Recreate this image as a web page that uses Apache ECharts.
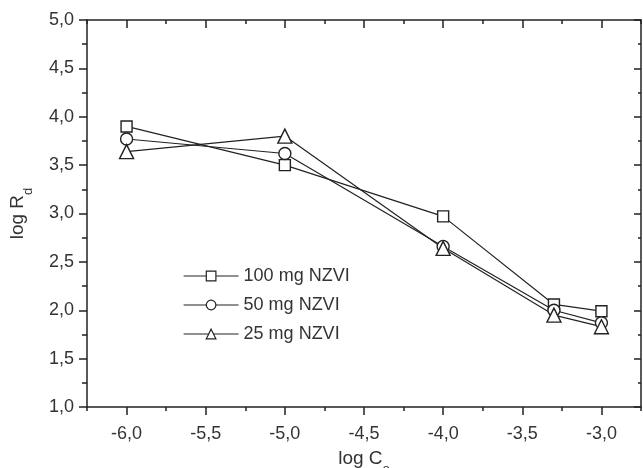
<!DOCTYPE html>
<html>
<head>
<meta charset="utf-8">
<script src="https://cdn.jsdelivr.net/npm/echarts@6/dist/echarts.min.js"></script>
<style>
  html, body { margin: 0; padding: 0; background: #fff; }
  #chart { width: 643px; height: 468px; }
</style>
</head>
<body>
<div id="chart"></div>
<script>
// data
var logC = [-6, -5, -4, -3.3, -3];
var rd100 = [3.90, 3.50, 2.97, 2.06, 1.99];
var rd50 = [3.77, 3.62, 2.66, 2.00, 1.87];
var rd25 = [3.64, 3.80, 2.64, 1.95, 1.83];
var seriesNames = ['100 mg NZVI', '50 mg NZVI', '25 mg NZVI'];
var xTicks = [-6, -5.5, -5, -4.5, -4, -3.5, -3];

function pairs(ys) {
  return logC.map(function (x, i) { return [x, ys[i]]; });
}
function comma(v) {
  return v.toFixed(1).replace('.', ',');
}

var ink = '#222';
var font = 'Liberation Sans, Arial, sans-serif';

/* 坐标轴 */
function xAx(pos, major, inside) {
  var ax = {
    type: 'value', position: pos, min: -6.25, max: -2.75,
    splitLine: { show: false },
    axisLine: { show: major, onZero: false, lineStyle: { color: ink, width: 1.5 } },
    axisTick: { show: true, inside: inside, length: major ? 8 : 4, lineStyle: { color: ink, width: 1.5 } },
    axisLabel: { show: false }
  };
  if (major) {
    ax.axisTick.customValues = xTicks;
  } else {
    ax.interval = 0.25;
  }
  return ax;
}

var xBottom = xAx('bottom', true, false);
xBottom.axisLabel = {
  show: true, customValues: xTicks, formatter: comma,
  fontSize: 18, color: '#333', fontFamily: font, margin: 18
};
xBottom.name = '{a|log C}{b|o}';
xBottom.nameLocation = 'middle';
xBottom.nameGap = 41;
xBottom.nameTextStyle = {
  rich: {
    a: { fontSize: 19, color: '#333', fontFamily: font, lineHeight: 22 },
    b: { fontSize: 13, color: '#333', fontFamily: font, lineHeight: 22, verticalAlign: 'bottom', padding: [0, 0, -6, 0] }
  }
};

function yAx(pos, inside, len, minorLen) {
  return {
    type: 'value', position: pos, min: 1, max: 5, interval: 0.5,
    splitLine: { show: false },
    axisLine: { show: true, onZero: false, lineStyle: { color: ink, width: 1.5 } },
    axisTick: { show: true, inside: inside, length: len, lineStyle: { color: ink, width: 1.5 } },
    minorTick: { show: true, splitNumber: 2, length: minorLen, lineStyle: { color: ink, width: 1.5 } },
    minorSplitLine: { show: false },
    axisLabel: { show: false }
  };
}

var yLeft = yAx('left', false, 8, 5);
yLeft.axisLabel = { show: true, formatter: comma, fontSize: 18, color: '#333', fontFamily: font, margin: 13 };
yLeft.name = '{a|log R}{b|d}';
yLeft.nameLocation = 'middle';
yLeft.nameGap = 58;
yLeft.nameRotate = 90;
yLeft.nameTextStyle = {
  rich: {
    a: { fontSize: 19, color: '#333', fontFamily: font, lineHeight: 22 },
    b: { fontSize: 13, color: '#333', fontFamily: font, lineHeight: 22, verticalAlign: 'bottom', padding: [0, 0, -6, 0] }
  }
};

function line(name, ys, symbol, size) {
  return {
    name: name, type: 'line', data: pairs(ys),
    xAxisIndex: 0, yAxisIndex: 0,
    symbol: symbol, symbolSize: size, showAllSymbol: true,
    lineStyle: { color: ink, width: 1.2 },
    itemStyle: { color: '#fff', borderColor: ink, borderWidth: 1.4 },
    emphasis: { disabled: true },
    z: 3
  };
}

var myChart = echarts.init(document.getElementById('chart'), null, { renderer: 'canvas' });
var option = {
  animation: false,
  backgroundColor: '#fff',
  grid: { left: 87, right: 2, top: 20, bottom: 61, containLabel: false, outerBoundsMode: 'none' },
  legend: {
    orient: 'vertical', left: 183, top: 267, padding: 0,
    itemWidth: 55, itemHeight: 12, itemGap: 11,
    lineStyle: { width: 1.2 },
    itemStyle: { borderWidth: 1.2 },
    textStyle: { fontSize: 18, color: '#333', fontFamily: font },
    data: seriesNames
  },
  xAxis: [xBottom, xAx('bottom', false, false), xAx('top', true, true), xAx('top', false, true)],
  yAxis: [yLeft, yAx('right', true, 7, 3)],
  series: [
    line(seriesNames[0], rd100, 'rect', 11),
    line(seriesNames[1], rd50, 'circle', 12),
    line(seriesNames[2], rd25, 'triangle', 14)
  ]
};
myChart.setOption(option);
</script>
</body>
</html>
